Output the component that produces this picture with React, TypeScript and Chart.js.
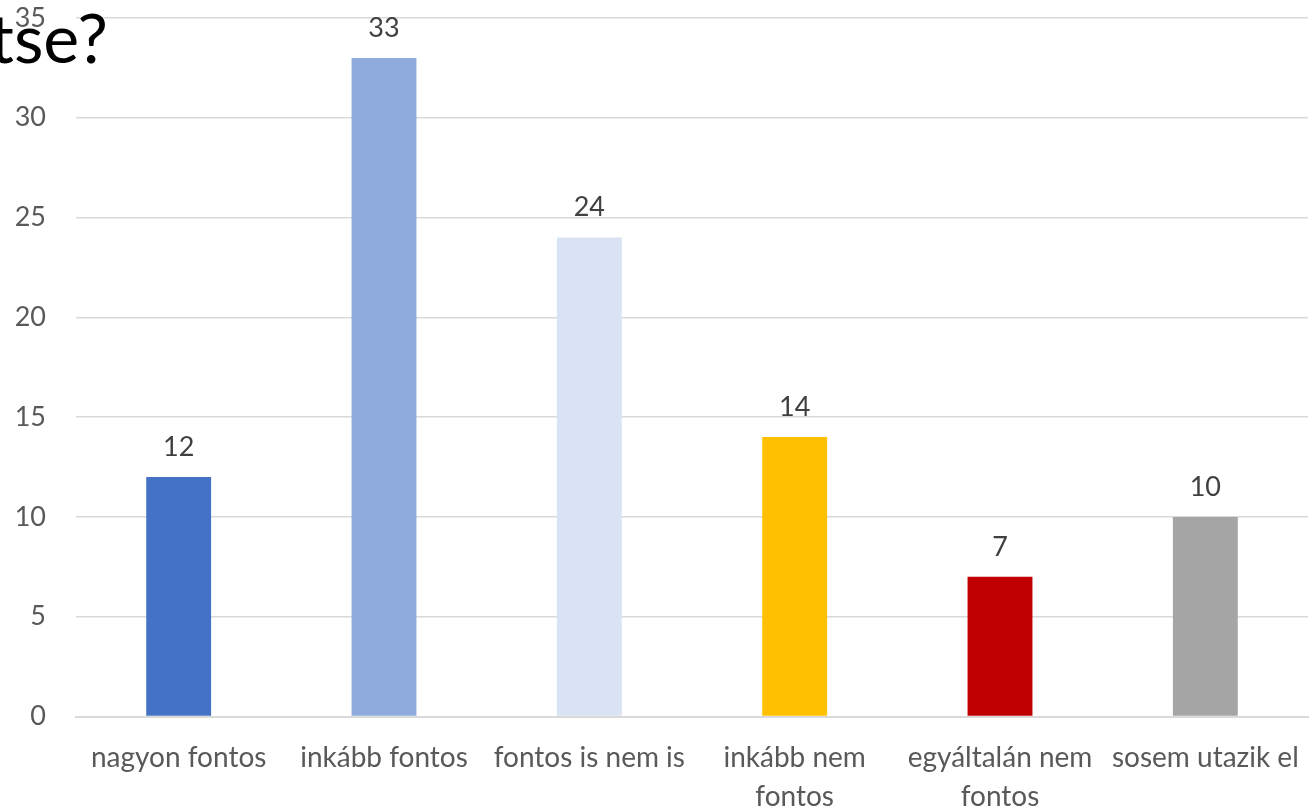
import React, { useEffect, useRef } from "react";
import { Chart, registerables } from "chart.js";

Chart.register(...registerables);

const categories: (string | string[])[] = [
  "nagyon fontos",
  "inkább fontos",
  "fontos is nem is",
  ["inkább nem", "fontos"],
  ["egyáltalán nem", "fontos"],
  "sosem utazik el",
];
const values = [12, 33, 24, 14, 7, 10];
const barColors = ["#4472C4", "#8FAADC", "#DAE3F3", "#FFC000", "#C00000", "#A5A5A5"];
const yTicks = [0, 5, 10, 15, 20, 25, 30, 35];
const titleFragment = "tse?";

const FONT = "Lato, 'Open Sans', sans-serif";

const labelPlugin = {
  id: "valueLabels",
  afterDatasetsDraw(chart: any) {
    const ctx = chart.ctx;
    const meta = chart.getDatasetMeta(0);
    ctx.save();
    ctx.font = `27px ${FONT}`;
    ctx.fillStyle = "#404040";
    ctx.textAlign = "center";
    ctx.textBaseline = "middle";
    meta.data.forEach((bar: any, i: number) => {
      ctx.fillText(String(values[i]), bar.x, bar.y - 30);
    });
    ctx.restore();
  },
};

const titlePlugin = {
  id: "titleFragment",
  afterDraw(chart: any) {
    const ctx = chart.ctx;
    ctx.save();
    ctx.font = `68px ${FONT}`;
    ctx.fillStyle = "#000000";
    ctx.textAlign = "right";
    ctx.textBaseline = "alphabetic";
    ctx.fillText(titleFragment, 108, 63);
    ctx.restore();
  },
};

export default function App() {
  const ref = useRef<HTMLCanvasElement>(null);
  useEffect(() => {
    document.body.style.margin = "0";
    const chart = new Chart(ref.current!, {
      type: "bar",
      data: {
        labels: categories,
        datasets: [
          {
            data: values,
            backgroundColor: barColors,
            categoryPercentage: 1,
            barPercentage: 0.316,
          },
        ],
      },
      options: {
        animation: false,
        responsive: false,
        maintainAspectRatio: false,
        layout: { padding: { top: 18, right: 1, left: 0, bottom: 0 } },
        plugins: { legend: { display: false }, tooltip: { enabled: false } },
        scales: {
          x: {
            afterFit(scale: any) {
              scale.height = 95.5;
              scale.paddingLeft = 0;
              scale.paddingRight = 0;
            },
            grid: { display: false, drawTicks: false },
            border: { display: true, color: "#d9d9d9", width: 2 },
            ticks: {
              color: "#595959",
              font: { family: FONT, size: 28, lineHeight: 1.4 },
              padding: 22,
              maxRotation: 0,
              autoSkip: false,
            },
          },
          y: {
            min: 0,
            max: 35,
            afterFit(scale: any) {
              scale.width = 76;
              scale.paddingTop = 0;
              scale.paddingBottom = 0;
            },
            afterBuildTicks(scale: any) {
              scale.ticks = yTicks.map((v) => ({ value: v }));
            },
            grid: { color: "#d9d9d9", lineWidth: 1.5, drawTicks: false },
            border: { display: false },
            ticks: {
              color: "#595959",
              font: { family: FONT, size: 27 },
              padding: 30,
            },
          },
        },
      },
      plugins: [labelPlugin, titlePlugin],
    });
    return () => chart.destroy();
  }, []);
  return (
    <div style={{ position: "fixed", left: 0, top: 0, width: 1309, height: 812, background: "#fff" }}>
      <canvas ref={ref} width={1309} height={812} />
    </div>
  );
}
